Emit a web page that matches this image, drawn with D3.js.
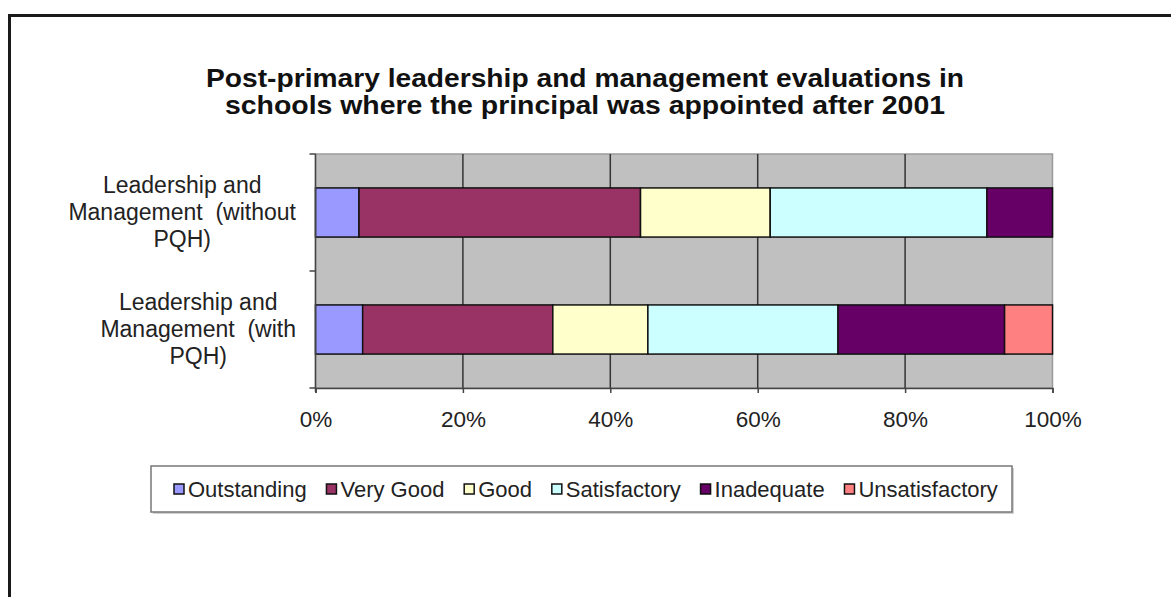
<!DOCTYPE html>
<html>
<head>
<meta charset="utf-8">
<script src="https://cdn.jsdelivr.net/npm/d3@7"></script>
<style>
  body { margin: 0; background: #fff; }
  svg { display: block; font-family: "Liberation Sans", Arial, sans-serif; }
</style>
</head>
<body>
<svg width="1171" height="597"></svg>
<script>
const titleLines = [
  'Post-primary leadership and management evaluations in',
  'schools where the principal was appointed after 2001',
];
const titleWidths = [758, 720];
const categories = ['without', 'with'];
const categoryLines = [
  ['Leadership and', 'Management  (without', 'PQH)'],
  ['Leadership and', 'Management  (with', 'PQH)'],
];
const series = ['Outstanding', 'Very Good', 'Good', 'Satisfactory', 'Inadequate', 'Unsatisfactory'];
const colors = ['#9999ff', '#993366', '#ffffcc', '#ccffff', '#660066', '#ff8080'];
// percent of schools per rating
const withoutPQH = [5.9, 38.2, 17.6, 29.4, 8.9, 0];
const withPQH = [6.4, 25.8, 12.9, 25.8, 22.6, 6.5];
const xTicks = [0, 0.2, 0.4, 0.6, 0.8, 1];

const rows = [withoutPQH, withPQH].map((vals, i) => {
  const r = { cat: categories[i] };
  series.forEach((s, j) => (r[s] = vals[j]));
  return r;
});

const stack = d3.stack().keys(series).offset(d3.stackOffsetExpand);
const layers = stack(rows);

const svg = d3.select('svg');

// outer frame
svg.append('rect')
  .attr('x', 9.5).attr('y', 15.5)
  .attr('width', 1200).attr('height', 700)
  .attr('fill', 'none')
  .attr('stroke', '#1a1a1a')
  .attr('stroke-width', 3);

// title (slightly widened glyphs like the original)
svg.append('g')
  .selectAll('text')
  .data(titleLines)
  .join('text')
  .attr('x', 585)
  .attr('y', (d, i) => 87 + i * 27)
  .attr('text-anchor', 'middle')
  .attr('font-size', 25)
  .attr('font-weight', 'bold')
  .attr('fill', '#111')
  .attr('textLength', (d, i) => titleWidths[i])
  .attr('lengthAdjust', 'spacingAndGlyphs')
  .text((d) => d);

const pLeft = 315.5, pRight = 1052.5, pTop = 154, pBottom = 388;

const x = d3.scaleLinear().domain([0, 1]).range([pLeft, pRight]);
const y = d3.scaleBand().domain(categories).range([pTop, pBottom]).paddingInner(0.58).paddingOuter(0.29);

// plot area
svg.append('rect')
  .attr('x', pLeft).attr('y', pTop)
  .attr('width', pRight - pLeft).attr('height', pBottom - pTop)
  .attr('fill', '#c0c0c0')
  .attr('stroke', '#9a9a9a')
  .attr('stroke-width', 1.5);

// vertical gridlines
svg.append('g')
  .selectAll('line')
  .data(xTicks.slice(1, -1))
  .join('line')
  .attr('x1', (d) => x(d)).attr('x2', (d) => x(d))
  .attr('y1', pTop).attr('y2', pBottom)
  .attr('stroke', '#333')
  .attr('stroke-width', 1.5);

// bars
svg.append('g')
  .selectAll('g')
  .data(layers)
  .join('g')
  .attr('fill', (d, i) => colors[i])
  .selectAll('rect')
  .data((d) => d.filter((p) => p[1] - p[0] > 0))
  .join('rect')
  .attr('x', (d) => x(d[0]))
  .attr('y', (d) => y(d.data.cat))
  .attr('width', (d) => x(d[1]) - x(d[0]))
  .attr('height', y.bandwidth())
  .attr('stroke', '#111')
  .attr('stroke-width', 1.5);

// x axis
const xAxis = svg.append('g')
  .attr('transform', `translate(0,${pBottom})`)
  .call(d3.axisBottom(x).tickValues(xTicks).tickFormat(d3.format('.0%')).tickSize(5).tickPadding(18));
xAxis.select('.domain').attr('stroke', '#444').attr('stroke-width', 1.5);
xAxis.selectAll('.tick line').attr('stroke', '#444').attr('stroke-width', 1.5);
xAxis.selectAll('text')
  .attr('font-size', 22.5)
  .attr('font-family', '"Liberation Sans", Arial, sans-serif')
  .attr('fill', '#222');

// y axis line with category boundary ticks
const yAxis = svg.append('g');
yAxis.append('line')
  .attr('x1', pLeft).attr('x2', pLeft)
  .attr('y1', pTop).attr('y2', pBottom + 4)
  .attr('stroke', '#444').attr('stroke-width', 1.5);
yAxis.selectAll('.bt')
  .data([pTop, (pTop + pBottom) / 2, pBottom])
  .join('line')
  .attr('class', 'bt')
  .attr('x1', pLeft - 6).attr('x2', pLeft)
  .attr('y1', (d) => d).attr('y2', (d) => d)
  .attr('stroke', '#444').attr('stroke-width', 1.5);

// category labels: block right aligned, lines centred
const lab = svg.append('g').selectAll('g')
  .data(categories)
  .join('g');
lab.each(function (c, i) {
  const g = d3.select(this);
  const cy = y(c) + y.bandwidth() / 2;
  const lines = categoryLines[i];
  const t = g.selectAll('text')
    .data(lines)
    .join('text')
    .attr('y', (d, k) => cy + (k - 1) * 27 + 7)
    .attr('text-anchor', 'middle')
    .attr('font-size', 23)
    .attr('fill', '#222')
    .style('white-space', 'pre')
    .text((d) => d);
  let w = 0;
  t.each(function () { w = Math.max(w, this.getComputedTextLength()); });
  t.attr('x', 296 - w / 2);
});

// legend
const lg = svg.append('g');
lg.append('rect')
  .attr('x', 153).attr('y', 468)
  .attr('width', 861).attr('height', 46)
  .attr('fill', '#d0d0d0');
lg.append('rect')
  .attr('x', 151).attr('y', 466)
  .attr('width', 861).attr('height', 46)
  .attr('fill', '#fff')
  .attr('stroke', '#777')
  .attr('stroke-width', 1.5);

let lx = 174;
series.forEach((s, i) => {
  lg.append('rect')
    .attr('x', lx).attr('y', 484)
    .attr('width', 10).attr('height', 10)
    .attr('fill', colors[i])
    .attr('stroke', '#111')
    .attr('stroke-width', 1.5);
  const t = lg.append('text')
    .attr('x', lx + 14).attr('y', 497)
    .attr('font-size', 22)
    .attr('fill', '#222')
    .text(s);
  lx += 14 + t.node().getComputedTextLength() + 19.8;
});
</script>
</body>
</html>
